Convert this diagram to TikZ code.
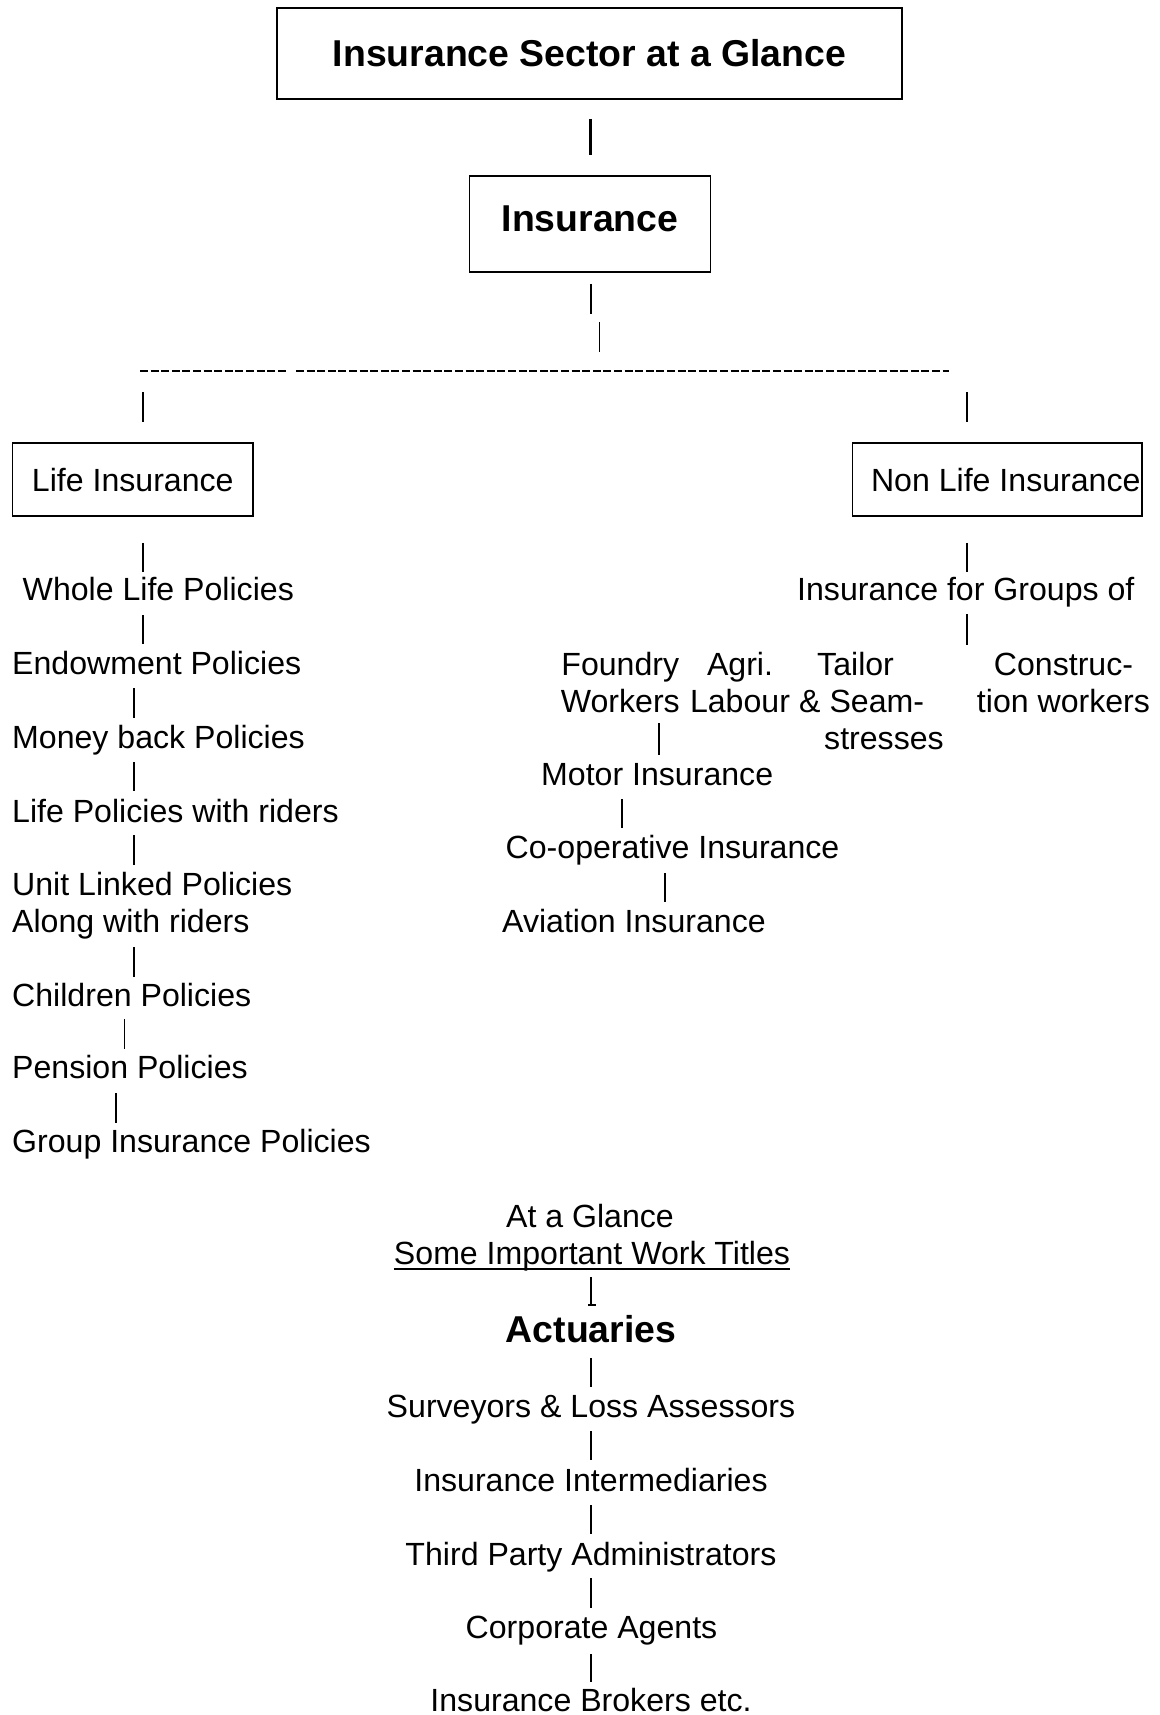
\documentclass[tikz,border=0pt]{standalone}
\usepackage{fontspec}
\setmainfont{Liberation Sans}
\newcommand\vb[5][bar]{\draw[#1] (#2 -| #3,0) ++(0,#4) -- ++(0,#5);}
\begin{document}
\begin{tikzpicture}[x=1pt,y=-1pt,
  every node/.style={inner sep=0pt},
  reg/.style={font=\fontsize{32.1}{37}\selectfont},
  bld/.style={font=\fontsize{37.4}{44}\selectfont\bfseries},
  box/.style={draw,line width=1.6pt},
  lt/.style={reg,anchor=base west},
  ct/.style={reg,anchor=base},
  bar/.style={line width=1.8pt},
  boldbar/.style={line width=3pt},
  dashline/.style={line width=2.8pt,dash pattern=on 8pt off 2.6pt}]
\fill[white] (0,0) rectangle (1159,1715);
\useasboundingbox (0,0) rectangle (1159,1715);

% boxes
\node[box,bld,minimum width=625pt,minimum height=91pt,text height=26.8pt,text depth=0pt] (title) at (589.5,53.5) {Insurance Sector at a Glance};
\node[box,bld,minimum width=241pt,minimum height=96pt,text height=26.8pt,text depth=11pt] (ins) at (590,224) {Insurance};
\node[box,reg,minimum width=240.4pt,minimum height=73pt,text height=23pt,text depth=0pt] (life) at (132.8,479.5) {Life Insurance};
\node[box,reg,minimum width=289.3pt,minimum height=73pt,text height=23pt,text depth=0pt] (nonlife) at (997.2,479.5) {\makebox[289.3pt][l]{\hspace{18.5pt}Non Life Insurance}};

% life column
\node[lt] (whole) at (22.5,600) {Whole Life Policies};
\node[lt] (endow) at (12,674) {Endowment Policies};
\node[lt] (money) at (12,748) {Money back Policies};
\node[lt] (riders) at (12,822) {Life Policies with riders};
\node[lt] (unit) at (12,895) {\begin{tabular}[t]{@{}l@{}}Unit Linked Policies\\Along with riders\end{tabular}};
\node[lt] (children) at (12,1006) {Children Policies};
\node[lt] (pension) at (12,1078) {Pension Policies};
\node[lt] (group) at (12,1152) {Group Insurance Policies};

% non life
\node[lt] (groups) at (797,600) {Insurance for Groups of};
\node[ct] (foundry) at (620.3,675) {\begin{tabular}[t]{@{}c@{}}Foundry\\Workers\end{tabular}};
\node[ct] (agri) at (740,675) {\begin{tabular}[t]{@{}c@{}}Agri.\\Labour\end{tabular}};
\node[lt] (tailor) at (799,675) {\begin{tabular}[t]{@{}l@{}}\hspace*{18pt}Tailor\\\& Seam-\\\hspace*{25pt}stresses\end{tabular}};
\node[ct] (constr) at (1063.5,675) {\begin{tabular}[t]{@{}c@{}}Construc-\\tion workers\end{tabular}};
\node[lt] (motor) at (541,785) {Motor Insurance};
\node[lt] (coop) at (505.5,858) {Co-operative Insurance};
\node[lt] (aviation) at (502,932) {Aviation Insurance};

% work titles
\node[ct] (glance) at (590,1227) {At a Glance};
\node[ct] (titles) at (592,1264) {Some Important Work Titles};
\draw[line width=2pt] ([yshift=-5pt]titles.base west) -- ([yshift=-5pt]titles.base east);
\node[ct,bld] (act) at (591,1342) {Actuaries};
\node[ct] (surv) at (591,1417) {Surveyors \& Loss Assessors};
\node[ct] (inter) at (591,1491) {Insurance Intermediaries};
\node[ct] (third) at (591,1565) {Third Party Administrators};
\node[ct] (corp) at (591.5,1638) {Corporate Agents};
\node[ct] (brokers) at (591,1711.5) {Insurance Brokers etc.};

% bars
\vb[boldbar]{title.south}{590}{19}{36}
\vb{ins.south}{591}{11}{30}
\vb{ins.south}{599.4}{49}{30}
\coordinate (dA1) at (140,371);
\coordinate (dA2) at (286,371);
\coordinate (dB1) at (296,371);
\coordinate (dB2) at (949,371);
\draw[dashline] (dA1) -- (dA2);
\draw[dashline] (dB1) -- (dB2);
\vb{life.north}{142.7}{-50}{30}
\vb{nonlife.north}{967}{-50}{30}
\vb{life.south}{142.7}{26}{29}
\vb{whole.base}{142.7}{15}{29}
\vb{endow.base}{133.6}{14}{30}
\vb{money.base}{133.6}{14}{29}
\vb{riders.base}{133.6}{13}{30}
\vb{unit.base}{133.6}{52}{30}
\vb{children.base}{124.4}{13}{30}
\vb{pension.base}{116}{15}{30}
\vb{nonlife.south}{967}{26}{29}
\vb{groups.base}{967}{14}{31}
\vb{foundry.base}{659}{48}{32}
\vb{motor.base}{621.6}{14}{29}
\vb{coop.base}{665}{15}{29}
\vb{titles.base}{591}{13}{28}
\draw[line width=1.5pt] ([yshift=-41pt]titles.base -| 588,0) -- ([yshift=-41pt]titles.base -| 596,0);
\vb{act.base}{591}{16}{29}
\vb{surv.base}{591}{14}{29}
\vb{inter.base}{591}{14}{29}
\vb{third.base}{591}{13}{30}
\vb{corp.base}{591}{16}{28}
\end{tikzpicture}
\end{document}
